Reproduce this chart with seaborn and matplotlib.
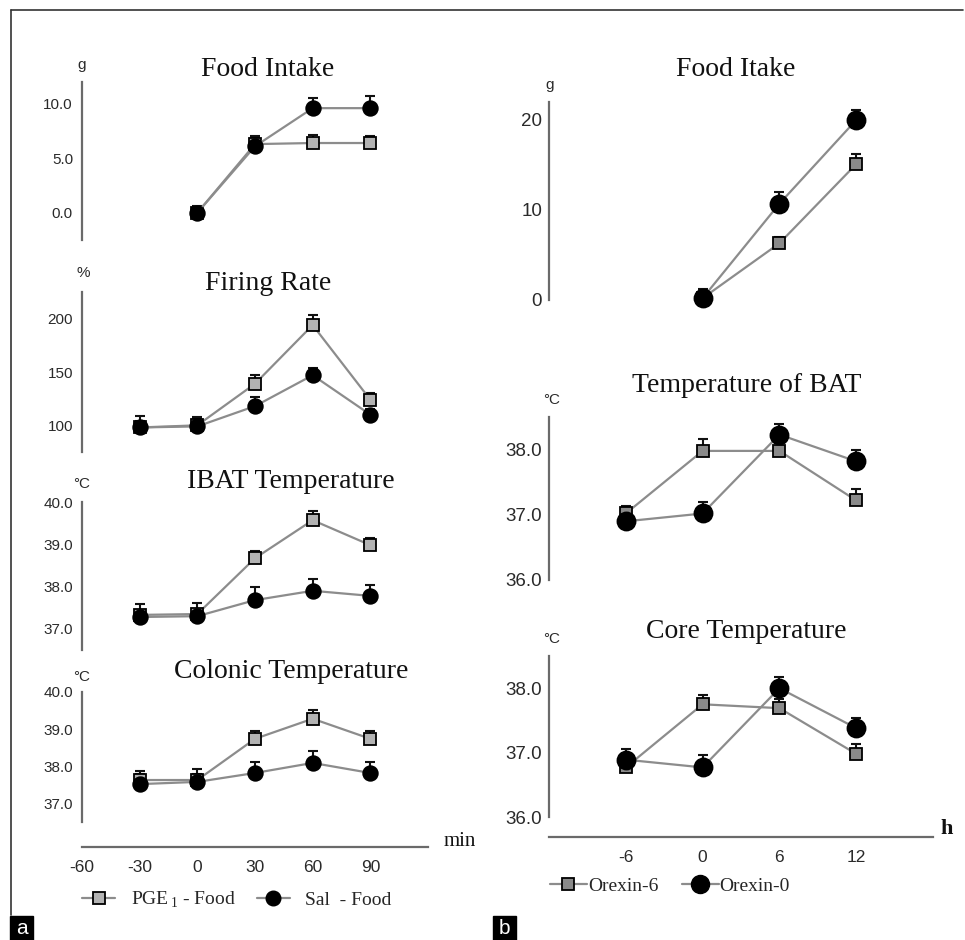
import pandas as pd
import matplotlib
matplotlib.use("Agg")

import matplotlib.pyplot as plt
import seaborn as sns
from matplotlib.lines import Line2D
from matplotlib.patches import Rectangle
from matplotlib.ticker import FixedLocator, MultipleLocator


# ==============================
# DATA  (panel a: minutes, panel b: hours)
# ==============================
min_ticks = [-60, -30, 0, 30, 60, 90]
min_labels = ["-60", "-30", "0", "30", "60", "90"]
min_times = [-30, 0, 30, 60, 90]
food_times = [0, 30, 60, 90]

food_pge = [0.0, 6.3, 6.4, 6.4]
food_pge_err = [0.4, 0.7, 0.7, 0.6]
food_sal = [0.0, 6.1, 9.6, 9.6]
food_sal_err = [0.6, 0.8, 0.9, 1.1]

fire_pge = [98, 100, 139, 194, 124]
fire_pge_err = [6, 6, 8, 9, 6]
fire_sal = [98, 99, 118, 147, 110]
fire_sal_err = [11, 9, 9, 7, 5]

ibat_pge = [37.33, 37.35, 38.67, 39.57, 38.98]
ibat_pge_err = [0.1, 0.1, 0.17, 0.21, 0.17]
ibat_sal = [37.28, 37.3, 37.68, 37.9, 37.78]
ibat_sal_err = [0.31, 0.3, 0.31, 0.28, 0.26]

colon_pge = [37.63, 37.63, 38.74, 39.28, 38.74]
colon_pge_err = [0.15, 0.15, 0.22, 0.24, 0.22]
colon_sal = [37.52, 37.58, 37.82, 38.09, 37.82]
colon_sal_err = [0.35, 0.35, 0.3, 0.32, 0.3]

h_ticks = [-6, 0, 6, 12]
h_labels = ["-6", "0", "6", "12"]
h_times = [-6, 0, 6, 12]
food_h_times = [0, 6, 12]

ofood_6 = [0.2, 6.3, 15.1]
ofood_6_err = [0.6, 0.7, 1.1]
ofood_0 = [0.2, 10.7, 20.0]
ofood_0_err = [1.0, 1.3, 1.1]

bat_6 = [37.02, 37.98, 37.98, 37.22]
bat_6_err = [0.12, 0.18, 0.12, 0.18]
bat_0 = [36.9, 37.02, 38.23, 37.82]
bat_0_err = [0.1, 0.17, 0.17, 0.18]

core_6 = [36.77, 37.75, 37.69, 36.98]
core_6_err = [0.1, 0.15, 0.14, 0.15]
core_0 = [36.89, 36.77, 38.0, 37.38]
core_0_err = [0.17, 0.2, 0.18, 0.15]

legend_a = [r"PGE$_{\,1}$ - Food", "Sal  - Food"]
legend_b = ["Orexin-6", "Orexin-0"]


# ==============================
# STYLE
# ==============================
sns.set_style("white")
plt.rcParams["font.family"] = ["Liberation Sans", "DejaVu Sans"]
plt.rcParams["mathtext.fontset"] = "custom"
plt.rcParams["mathtext.rm"] = "Liberation Serif"

W, H = 965, 940
SERIF = ["Liberation Serif", "DejaVu Serif"]
LINE = "#8c8c8c"
SPINE = "#6a6a6a"
TXT = "#2a2a2a"

fig = plt.figure(figsize=(W / 100, H / 100), dpi=100)


def rect(x0, y0, x1, y1):
    return [x0 / W, 1 - y1 / H, (x1 - x0) / W, (y1 - y0) / H]


def fx(x):
    return x / W


def fy(y):
    return 1 - y / H


def make_df(times, vals, errs, group):
    return pd.DataFrame({"time": times, "value": vals, "err": errs, "group": group})


def draw_series(ax, df, marker, ms, face):
    ax.errorbar(df["time"], df["value"], yerr=[[0] * len(df), df["err"]],
                fmt="none", ecolor="#111111", elinewidth=1.5, capsize=3.6,
                capthick=1.5, zorder=1, clip_on=False)
    sns.lineplot(data=df, x="time", y="value", ax=ax, color=LINE, linewidth=1.6,
                 marker=marker, markersize=ms, markerfacecolor=face,
                 markeredgecolor="black", markeredgewidth=1.3,
                 errorbar=None, legend=False, clip_on=False)


def style_axis(ax, xlim, ylim, majors, minor, fmt, ysize, ypad, xaxis=None):
    ax.set_xlim(*xlim)
    ax.set_ylim(*ylim)
    for s in ["top", "right"]:
        ax.spines[s].set_visible(False)
    ax.spines["left"].set_color(SPINE)
    ax.spines["left"].set_linewidth(1.6)
    ax.yaxis.set_major_locator(FixedLocator(majors))
    ax.yaxis.set_minor_locator(MultipleLocator(minor))
    ax.set_yticklabels([fmt.format(v) for v in majors])
    ax.tick_params(axis="y", which="both", direction="in", color=SPINE,
                   width=1.2, labelsize=ysize, labelcolor=TXT, pad=ypad)
    ax.tick_params(axis="y", which="major", length=4)
    ax.tick_params(axis="y", which="minor", length=3)
    ax.set_xlabel("")
    ax.set_ylabel("")
    if xaxis is None:
        ax.spines["bottom"].set_visible(False)
        ax.set_xticks([])
    else:
        ticks, labels, outward = xaxis
        ax.spines["bottom"].set_position(("outward", outward))
        ax.spines["bottom"].set_color(SPINE)
        ax.spines["bottom"].set_linewidth(1.6)
        ax.set_xticks(ticks, labels)
        ax.tick_params(axis="x", direction="inout", length=5, width=1.2,
                       color=SPINE, labelsize=12.5, labelcolor=TXT, pad=7)


# ==============================
# PANEL a
# ==============================
a_panels = [
    # times, pge, pge_err, sal, sal_err, ylim, majors, minor, fmt, spine px, unit, title
    (food_times, food_pge, food_pge_err, food_sal, food_sal_err, (-2.5, 12.0),
     [0, 5, 10], 2.5, "{:.1f}", (82, 240), "g", (82, 65), "Food Intake", (268, 70)),
    (min_times, fire_pge, fire_pge_err, fire_sal, fire_sal_err, (75, 225),
     [100, 150, 200], 25, "{:.0f}", (292, 452), "%", (83, 273), "Firing Rate", (268, 284)),
    (min_times, ibat_pge, ibat_pge_err, ibat_sal, ibat_sal_err, (36.5, 40.0),
     [37, 38, 39, 40], 0.5, "{:.1f}", (502, 650), "°C", (82, 484), "IBAT Temperature", (291, 482)),
    (min_times, colon_pge, colon_pge_err, colon_sal, colon_sal_err, (36.5, 40.0),
     [37, 38, 39, 40], 0.5, "{:.1f}", (692, 822), "°C", (82, 677), "Colonic Temperature", (291, 672)),
]

for i, (t, pge, pge_e, sal, sal_e, ylim, majors, minor, fmt, (y0, y1),
        unit, upos, title, tpos) in enumerate(a_panels):
    ax = fig.add_axes(rect(82, y0, 428, y1))
    ax.patch.set_alpha(0)
    draw_series(ax, make_df(t, pge, pge_e, "PGE"), "s", 8.5, "#b3b3b3")
    draw_series(ax, make_df(t, sal, sal_e, "Sal"), "o", 10.5, "black")
    xaxis = (min_ticks, min_labels, 18) if i == len(a_panels) - 1 else None
    style_axis(ax, (-60, 120), ylim, majors, minor, fmt, 11, 6.5, xaxis)
    fig.text(fx(upos[0]), fy(upos[1]), unit, ha="center", va="center",
             fontsize=11, color=TXT)
    fig.text(fx(tpos[0]), fy(tpos[1]), title, ha="center", va="center",
             fontsize=20, family=SERIF, color="#111111")

fig.text(fx(460), fy(842), "min", ha="center", va="center", fontsize=15,
         family=SERIF, color="#111111")


# ==============================
# PANEL b
# ==============================
b_panels = [
    (food_h_times, ofood_6, ofood_6_err, ofood_0, ofood_0_err, (0, 22),
     [0, 10, 20], 5, "{:.0f}", (102, 300), "g", (550, 85), "Food Itake", (736, 69)),
    (h_times, bat_6, bat_6_err, bat_0, bat_0_err, (36.0, 38.5),
     [36, 37, 38], 0.5, "{:.1f}", (417, 580), "°C", (552, 400), "Temperature of BAT", (747, 386)),
    (h_times, core_6, core_6_err, core_0, core_0_err, (36.0, 38.5),
     [36, 37, 38], 0.5, "{:.1f}", (656, 817), "°C", (552, 639), "Core Temperature", (746, 632)),
]

for i, (t, s6, s6_e, s0, s0_e, ylim, majors, minor, fmt, (y0, y1),
        unit, upos, title, tpos) in enumerate(b_panels):
    ax = fig.add_axes(rect(549, y0, 933, y1))
    ax.patch.set_alpha(0)
    draw_series(ax, make_df(t, s6, s6_e, "Orexin-6"), "s", 8, "#8a8a8a")
    draw_series(ax, make_df(t, s0, s0_e, "Orexin-0"), "o", 13, "black")
    xaxis = (h_ticks, h_labels, 14.4) if i == len(b_panels) - 1 else None
    style_axis(ax, (-12, 18), ylim, majors, minor, fmt, 13.5, 5, xaxis)
    fig.text(fx(upos[0]), fy(upos[1]), unit, ha="center", va="center",
             fontsize=11, color=TXT)
    fig.text(fx(tpos[0]), fy(tpos[1]), title, ha="center", va="center",
             fontsize=20, family=SERIF, color="#111111")

fig.text(fx(947), fy(829), "h", ha="center", va="center", fontsize=16,
         family=SERIF, weight="bold", color="#111111")


# ==============================
# LEGENDS
# ==============================
h_a = [Line2D([], [], color=LINE, lw=1.6, marker="s", ms=8.5, mfc="#b3b3b3",
              mec="black", mew=1.3),
       Line2D([], [], color=LINE, lw=1.6, marker="o", ms=10.5, mfc="black",
              mec="black")]
fig.legend(h_a, legend_a, loc="center left", bbox_to_anchor=(fx(82), fy(900)),
           ncol=2, frameon=False, handlelength=1.7, handletextpad=0.8,
           columnspacing=1.1, borderpad=0, borderaxespad=0,
           prop={"family": SERIF, "size": 14})

h_b = [Line2D([], [], color=LINE, lw=1.6, marker="s", ms=9, mfc="#8a8a8a",
              mec="black", mew=1.3),
       Line2D([], [], color=LINE, lw=1.6, marker="o", ms=13, mfc="black",
              mec="black")]
fig.legend(h_b, legend_b, loc="center left", bbox_to_anchor=(fx(550), fy(886)),
           ncol=2, frameon=False, handlelength=1.9, handletextpad=0.05,
           columnspacing=1.2, borderpad=0, borderaxespad=0,
           prop={"family": SERIF, "size": 14})


# ==============================
# FRAME + PANEL LETTERS
# ==============================
fig.add_artist(Line2D([fx(11), fx(963)], [fy(10), fy(10)], color="#333333", lw=1.2))
fig.add_artist(Line2D([fx(11), fx(11)], [fy(10), fy(915)], color="#333333", lw=1.2))

for letter, x0 in [("a", 10), ("b", 493)]:
    fig.add_artist(Rectangle((fx(x0), fy(940)), 23 / W, 24 / H, color="black",
                             transform=fig.transFigure))
    fig.text(fx(x0 + 11.5), fy(928), letter, ha="center", va="center",
             fontsize=15, color="white")

fig.savefig("out.png", dpi=100)
plt.close(fig)
